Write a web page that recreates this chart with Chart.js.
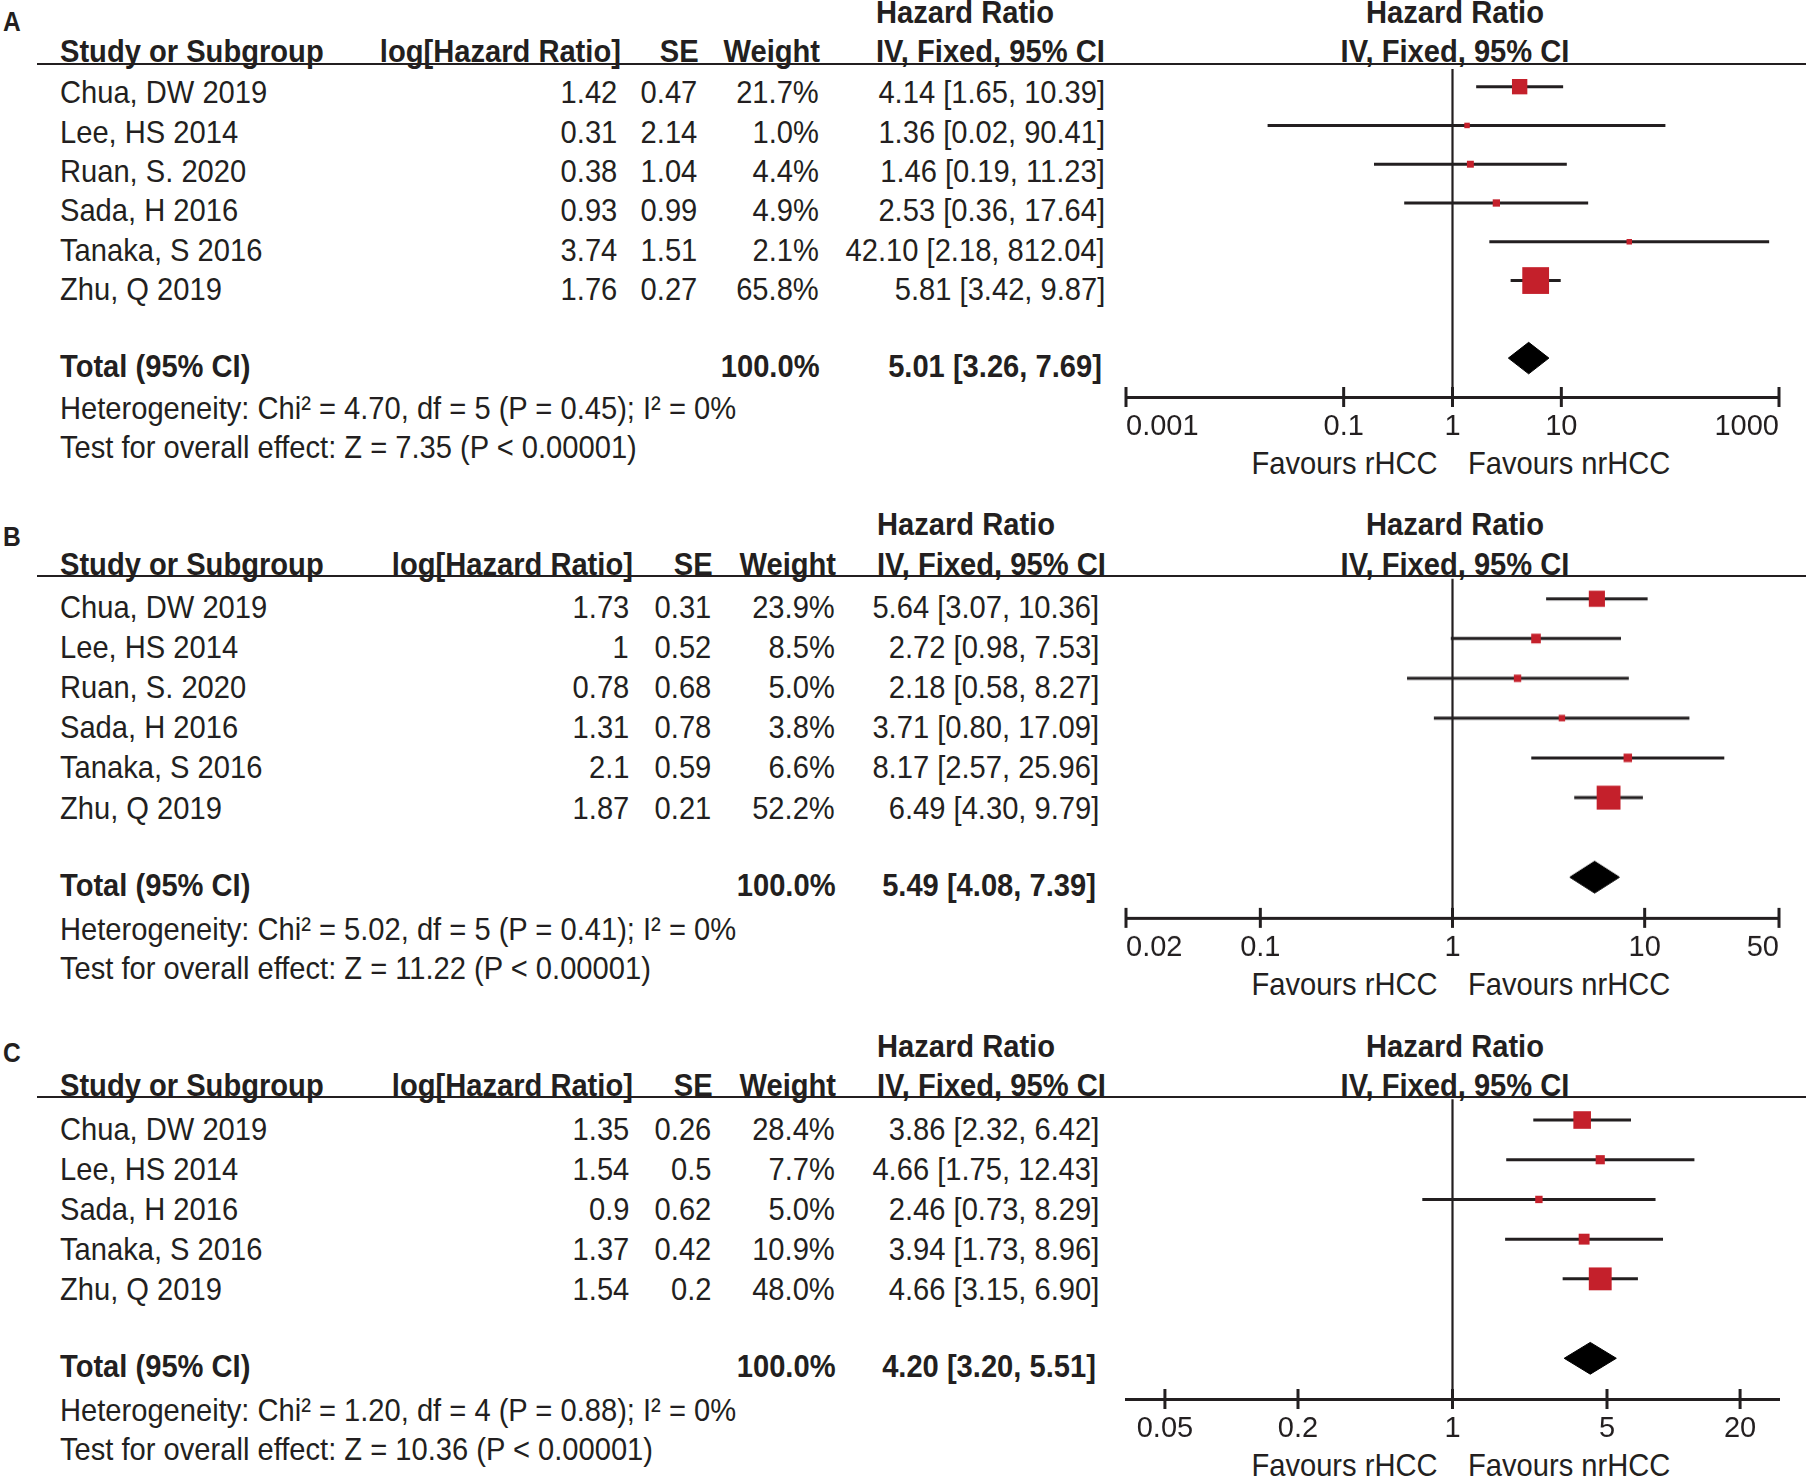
<!DOCTYPE html>
<html>
<head>
<meta charset="utf-8">
<script src="https://cdn.jsdelivr.net/npm/chart.js@4.4.0/dist/chart.umd.min.js"></script>
<style>
html, body { margin: 0; padding: 0; background: #fff; }
body { width: 1806px; height: 1477px; position: relative; overflow: hidden; }
.t { position: absolute; white-space: nowrap; font-family: "Liberation Sans", Arial, sans-serif; font-size: 32px; line-height: 1; color: #231f20; }
.b { font-weight: bold; }
.hl { position: absolute; height: 2.5px; background: #231f20; }
canvas { position: absolute; }
</style>
</head>
<body>
<script>
// panel A
var studiesA = ['Chua, DW 2019', 'Lee, HS 2014', 'Ruan, S. 2020', 'Sada, H 2016', 'Tanaka, S 2016', 'Zhu, Q 2019']
var logHrA = [1.42, 0.31, 0.38, 0.93, 3.74, 1.76]
var seA = [0.47, 2.14, 1.04, 0.99, 1.51, 0.27]
var weightA = [21.7, 1.0, 4.4, 4.9, 2.1, 65.8]
var hrA = [4.14, 1.36, 1.46, 2.53, 42.10, 5.81]
var loA = [1.65, 0.02, 0.19, 0.36, 2.18, 3.42]
var hiA = [10.39, 90.41, 11.23, 17.64, 812.04, 9.87]
var totalA = [5.01, 3.26, 7.69]
var hetA = 'Heterogeneity: Chi² = 4.70, df = 5 (P = 0.45); I² = 0%'
var testA = 'Test for overall effect: Z = 7.35 (P < 0.00001)'
var ticksA = [0.001, 0.1, 1, 10, 1000]
var rangeA = [0.001, 1000]

// panel B
var studiesB = ['Chua, DW 2019', 'Lee, HS 2014', 'Ruan, S. 2020', 'Sada, H 2016', 'Tanaka, S 2016', 'Zhu, Q 2019']
var logHrB = [1.73, 1, 0.78, 1.31, 2.1, 1.87]
var seB = [0.31, 0.52, 0.68, 0.78, 0.59, 0.21]
var weightB = [23.9, 8.5, 5.0, 3.8, 6.6, 52.2]
var hrB = [5.64, 2.72, 2.18, 3.71, 8.17, 6.49]
var loB = [3.07, 0.98, 0.58, 0.80, 2.57, 4.30]
var hiB = [10.36, 7.53, 8.27, 17.09, 25.96, 9.79]
var totalB = [5.49, 4.08, 7.39]
var hetB = 'Heterogeneity: Chi² = 5.02, df = 5 (P = 0.41); I² = 0%'
var testB = 'Test for overall effect: Z = 11.22 (P < 0.00001)'
var ticksB = [0.02, 0.1, 1, 10, 50]
var rangeB = [0.02, 50]

// panel C
var studiesC = ['Chua, DW 2019', 'Lee, HS 2014', 'Sada, H 2016', 'Tanaka, S 2016', 'Zhu, Q 2019']
var logHrC = [1.35, 1.54, 0.9, 1.37, 1.54]
var seC = [0.26, 0.5, 0.62, 0.42, 0.2]
var weightC = [28.4, 7.7, 5.0, 10.9, 48.0]
var hrC = [3.86, 4.66, 2.46, 3.94, 4.66]
var loC = [2.32, 1.75, 0.73, 1.73, 3.15]
var hiC = [6.42, 12.43, 8.29, 8.96, 6.90]
var totalC = [4.20, 3.20, 5.51]
var hetC = 'Heterogeneity: Chi² = 1.20, df = 4 (P = 0.88); I² = 0%'
var testC = 'Test for overall effect: Z = 10.36 (P < 0.00001)'
var ticksC = [0.05, 0.2, 1, 5, 20]
var rangeC = [1 / 30, 30]

var RED = '#c4202b'
var INK = '#231f20'
var PLOT_L = 1126, PLOT_R = 1779, MID = 1452
var SQUEEZE = 0.91   // the figure's Arial is slightly condensed

var panels = [
  { label: 'A', studies: studiesA, logHr: logHrA, se: seA, weight: weightA, hr: hrA, lo: loA, hi: hiA,
    total: totalA, het: hetA, test: testA, ticks: ticksA, range: rangeA, align: 'inner',
    lay: { labelY: 22, h1: 12, h2: 51, lineY: 64, row0: 92.2, rowH: 39.36, totalY: 366.3, hetY: 407.8, testY: 447,
           axisY: 397, favY: 463, mark0: 82, log: 617, se: 697, w: 819, hr: 1105, hrHead: 876 } },
  { label: 'B', studies: studiesB, logHr: logHrB, se: seB, weight: weightB, hr: hrB, lo: loB, hi: hiB,
    total: totalB, het: hetB, test: testB, ticks: ticksB, range: rangeB, align: 'inner',
    lay: { labelY: 537, h1: 524, h2: 564, lineY: 576, row0: 607, rowH: 40.1, totalY: 884.7, hetY: 928.5, testY: 967.7,
           axisY: 917.7, favY: 984, mark0: 596, log: 629, se: 711, w: 835, hr: 1099, hrHead: 877 } },
  { label: 'C', studies: studiesC, logHr: logHrC, se: seC, weight: weightC, hr: hrC, lo: loC, hi: hiC,
    total: totalC, het: hetC, test: testC, ticks: ticksC, range: rangeC, align: 'center',
    lay: { labelY: 1053, h1: 1046, h2: 1085, lineY: 1097, row0: 1129, rowH: 40, totalY: 1366, hetY: 1410, testY: 1449,
           axisY: 1399, favY: 1465, mark0: 1118, log: 629, se: 711, w: 835, hr: 1099, hrHead: 877 } }
]

function put(s, x, y, align, bold, size) {
  var d = document.createElement('div')
  d.className = 't' + (bold ? ' b' : '')
  d.textContent = s
  if (size) d.style.fontSize = size + 'px'
  d.style.top = y + 'px'
  if (align == 'r') {
    d.style.right = (1806 - x) + 'px'
    d.style.transformOrigin = '100% 50%'
    d.style.transform = 'translateY(-50%) scaleX(' + SQUEEZE + ')'
  } else if (align == 'c') {
    d.style.left = x + 'px'
    d.style.transformOrigin = '50% 50%'
    d.style.transform = 'translate(-50%, -50%) scaleX(' + SQUEEZE + ')'
  } else {
    d.style.left = x + 'px'
    d.style.transformOrigin = '0 50%'
    d.style.transform = 'translateY(-50%) scaleX(' + SQUEEZE + ')'
  }
  document.body.appendChild(d)
}

function ciText(v, lo, hi) {
  return v.toFixed(2) + ' [' + lo.toFixed(2) + ', ' + hi.toFixed(2) + ']'
}

function drawTable(p) {
  var L = p.lay
  put(p.label, 3, L.labelY, 'l', true, 27)
  put('Hazard Ratio', L.hrHead, L.h1, 'l', true)
  put('Hazard Ratio', MID + 3, L.h1, 'c', true)
  put('Study or Subgroup', 60, L.h2, 'l', true)
  put('log[Hazard Ratio]', L.log + 4, L.h2, 'r', true)
  put('SE', L.se + 2, L.h2, 'r', true)
  put('Weight', L.w + 1, L.h2, 'r', true)
  put('IV, Fixed, 95% CI', L.hrHead, L.h2, 'l', true)
  put('IV, Fixed, 95% CI', MID + 3, L.h2, 'c', true)

  var hl = document.createElement('div')
  hl.className = 'hl'
  hl.style.left = '37px'
  hl.style.width = (1806 - 37) + 'px'
  hl.style.top = (L.lineY - 1.25) + 'px'
  document.body.appendChild(hl)

  p.studies.forEach(function (s, i) {
    var y = L.row0 + i * L.rowH
    put(s, 60, y, 'l')
    put(String(p.logHr[i]), L.log, y, 'r')
    put(String(p.se[i]), L.se, y, 'r')
    put(p.weight[i].toFixed(1) + '%', L.w, y, 'r')
    put(ciText(p.hr[i], p.lo[i], p.hi[i]), L.hr, y, 'r')
  })
  put('Total (95% CI)', 60, L.totalY, 'l', true)
  put('100.0%', L.w + 1, L.totalY, 'r', true)
  put(ciText(p.total[0], p.total[1], p.total[2]), L.hr - 3, L.totalY, 'r', true)
  put(p.het, 60, L.hetY, 'l')
  put(p.test, 60, L.testY, 'l')
  put('Favours rHCC', MID - 15, L.favY, 'r')
  put('Favours nrHCC', MID + 16, L.favY, 'l')
}

function drawPlot(p) {
  var L = p.lay
  var padT = 14, padL = 45, padR = 1806 - PLOT_R, axisH = 62
  var W = PLOT_R - PLOT_L + padL + padR
  var H = padT + (L.axisY - L.lineY) + axisH
  var cv = document.createElement('canvas')
  cv.width = W
  cv.height = H
  cv.style.width = W + 'px'
  cv.style.height = H + 'px'
  cv.style.left = (PLOT_L - padL) + 'px'
  cv.style.top = (L.lineY - padT) + 'px'
  document.body.appendChild(cv)

  var n = p.studies.length
  var yMin = (L.lineY - L.mark0) / L.rowH
  var yMax = (L.axisY - L.mark0) / L.rowH
  var tRow = n + 1
  var dh = 16 / L.rowH

  var ds = []
  ds.push({
    data: p.hr.map(function (v, i) { return { x: v, y: i } }),
    pointStyle: 'rect',
    pointRadius: p.weight.map(function (w) { return Math.max(5.5, 3.3 * Math.sqrt(w)) / Math.SQRT2 }),
    pointBackgroundColor: RED, pointBorderWidth: 0, showLine: false, order: 0, clip: false
  })
  p.lo.forEach(function (lo, i) {
    ds.push({
      data: [{ x: lo, y: i }, { x: p.hi[i], y: i }],
      showLine: true, borderColor: INK, borderWidth: 3, pointRadius: 0, order: 2, clip: false
    })
  })
  ds.push({
    data: [{ x: p.total[1], y: tRow }, { x: p.total[0], y: tRow - dh }, { x: p.total[2], y: tRow },
           { x: p.total[0], y: tRow + dh }, { x: p.total[1], y: tRow }],
    showLine: true, fill: 'shape', backgroundColor: '#000', borderColor: '#000', borderWidth: 1,
    pointRadius: 0, tension: 0, order: 1, clip: false
  })
  ds.push({
    data: [{ x: 1, y: yMin }, { x: 1, y: yMax }],
    showLine: true, borderColor: INK, borderWidth: 2.2, pointRadius: 0, order: 3, clip: false
  })
  ds.push({
    data: p.ticks.map(function (v) { return { x: v, y: yMax } }),
    pointStyle: 'line', pointRotation: 90, pointRadius: 10, pointBorderColor: INK, pointBorderWidth: 3,
    showLine: false, order: 1, clip: false
  })

  new Chart(cv, {
    type: 'scatter',
    data: { datasets: ds },
    options: {
      responsive: false,
      animation: false,
      events: [],
      layout: { padding: { left: padL, right: padR, top: padT, bottom: 0 } },
      plugins: { legend: { display: false }, tooltip: { enabled: false } },
      scales: {
        x: {
          type: 'logarithmic',
          min: p.range[0],
          max: p.range[1],
          grid: { display: false, drawTicks: false },
          border: { display: true, color: INK, width: 3 },
          afterBuildTicks: function (s) { s.ticks = p.ticks.map(function (v) { return { value: v } }) },
          afterFit: function (s) { s.height = axisH },
          ticks: {
            autoSkip: false, maxRotation: 0, align: p.align, padding: 13, color: INK,
            font: { family: 'Liberation Sans', size: 29 },
            callback: function (v) { return String(v) }
          }
        },
        y: { type: 'linear', reverse: true, min: yMin, max: yMax, display: false }
      }
    }
  })
}

panels.forEach(function (p) {
  drawTable(p)
  drawPlot(p)
})
</script>
</body>
</html>
